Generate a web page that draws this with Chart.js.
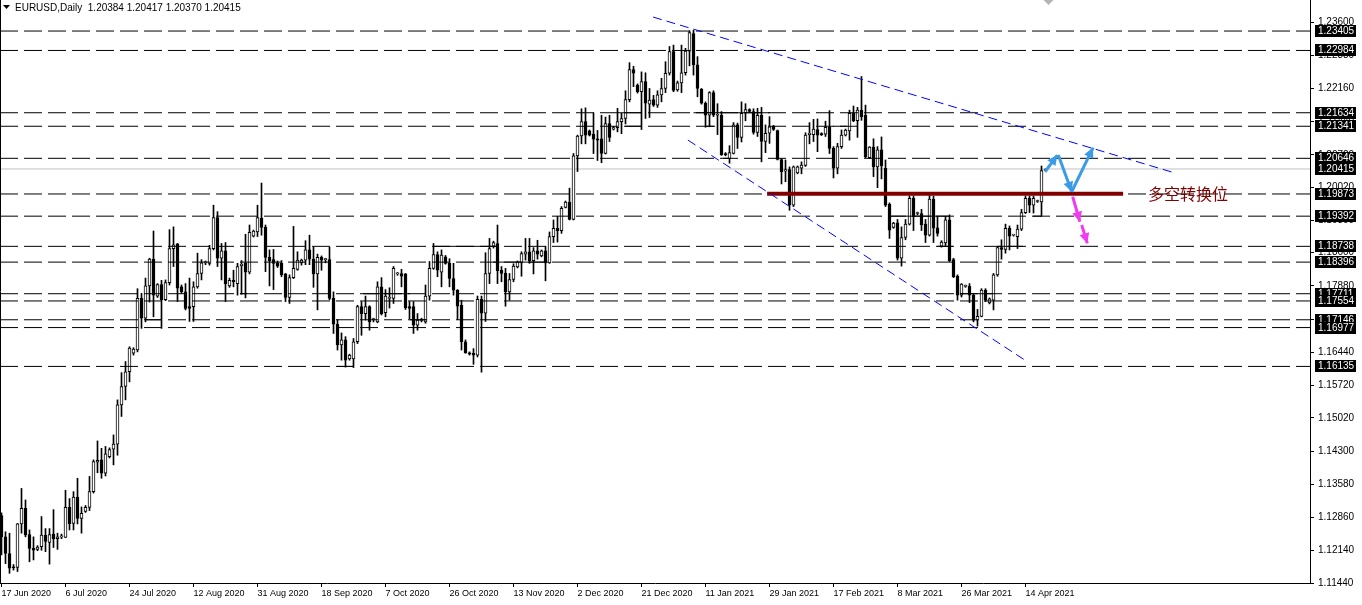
<!DOCTYPE html>
<html><head><meta charset="utf-8">
<script src="https://cdn.jsdelivr.net/npm/chart.js@4.4.1/dist/chart.umd.min.js"></script>
<style>html,body{margin:0;padding:0;background:#fff;overflow:hidden}canvas{display:block}</style>
</head><body>
<canvas id="c" width="1362" height="605"></canvas>
<script>
// ---------- data ----------
const symbolTitle = 'EURUSD,Daily';
const headerQuote = [1.20384, 1.20417, 1.20370, 1.20415];
const dateLabels = ['17 Jun 2020','6 Jul 2020','24 Jul 2020','12 Aug 2020','31 Aug 2020','18 Sep 2020','7 Oct 2020','26 Oct 2020','13 Nov 2020','2 Dec 2020','21 Dec 2020','11 Jan 2021','29 Jan 2021','17 Feb 2021','8 Mar 2021','26 Mar 2021','14 Apr 2021'];
const dateTickIndex = [0,16,32,48,64,80,96,112,128,144,160,176,192,208,224,240,256];
const priceTicks = [1.23600,1.22880,1.22160,1.21440,1.20720,1.20020,1.19300,1.18600,1.17880,1.17160,1.16440,1.15720,1.15020,1.14300,1.13580,1.12860,1.12140,1.11440];
const levelValues = [1.23405,1.22984,1.21634,1.21341,1.20646,1.19873,1.19392,1.18738,1.18396,1.17711,1.17554,1.17146,1.16977,1.16135];
const currentPrice = 1.20415;
// solid horizontal segments: [price, from bar, to bar]
const levelSegments = [
  [1.17146, 35.9, 40.1], [1.17711, 59.6, 61.4], [1.16135, 83.9, 87.9],
  [1.17711, 90.4, 102.1], [1.17146, 102.1, 106.4], [1.18738, 107.9, 123.9],
  [1.18396, 122.9, 136.6], [1.21634, 153.9, 160.1], [1.21341, 155.9, 160.1],
  [1.21634, 173.0, 192.1], [1.21341, 175.9, 178.4], [1.20646, 180.4, 182.1],
  [1.21341, 207.9, 211.4], [1.19392, 222.1, 237.1], [1.18738, 233.9, 237.9],
  [1.17711, 239.6, 247.9], [1.18738, 248.9, 255.4], [1.19392, 257.9, 260.1]
];

const opens = [
1.1290,1.1244,1.1208,1.1179,1.1178,1.1272,1.1306,1.1249,1.1219,1.1217,
1.1223,1.1248,1.1232,1.1250,1.1240,1.1244,1.1243,1.1308,1.1273,1.1330,
1.1284,1.1299,1.1308,1.1342,1.1406,1.1411,1.1382,1.1418,1.1434,1.1445,
1.1530,1.1570,1.1602,1.1642,1.1649,1.1761,1.1718,1.1788,1.1846,1.1766,
1.1791,1.1758,1.1795,1.1869,1.1879,1.1786,1.1775,1.1743,1.1743,1.1786,
1.1815,1.1838,1.1837,1.1869,1.1936,1.1848,1.1864,1.1788,1.1800,1.1793,
1.1832,1.1837,1.1818,1.1896,1.1905,1.1935,1.1915,1.1850,1.1845,1.1837,
1.1837,1.1814,1.1763,1.1806,1.1824,1.1838,1.1844,1.1866,1.1846,1.1814,
1.1850,1.1845,1.1845,1.1761,1.1705,1.1660,1.1671,1.1630,1.1630,1.1667,
1.1743,1.1728,1.1743,1.1715,1.1710,1.1786,1.1730,1.1761,1.1761,1.1814,
1.1815,1.1814,1.1743,1.1743,1.1703,1.1713,1.1710,1.1766,1.1826,1.1856,
1.1818,1.1851,1.1837,1.1804,1.1779,1.1746,1.1667,1.1643,1.1642,1.1638,
1.1759,1.1729,1.1815,1.1874,1.1880,1.1822,1.1816,1.1775,1.1802,1.1829,
1.1838,1.1857,1.1862,1.1843,1.1864,1.1853,1.1864,1.1838,1.1895,1.1913,
1.1908,1.1958,1.1970,1.1932,1.2070,1.2113,1.2144,1.2124,1.2117,1.2107,
1.2107,1.2075,1.2140,1.2128,1.2131,1.2144,1.2151,1.2192,1.2257,1.2223,
1.2209,1.2231,1.2182,1.2192,1.2180,1.2202,1.2216,1.2249,1.2296,1.2213,
1.2228,1.2250,1.2297,1.2335,1.2267,1.2214,1.2184,1.2158,1.2207,1.2158,
1.2158,1.2075,1.2064,1.2075,1.2137,1.2110,1.2163,1.2170,1.2166,1.2121,
1.2158,1.2101,1.2119,1.2134,1.2125,1.2062,1.2037,1.2040,1.1963,1.2033,
1.2043,1.2049,1.2116,1.2116,1.2127,1.2118,1.2117,1.2132,1.2086,1.2043,
1.2090,1.2115,1.2124,1.2162,1.2146,1.2169,1.2158,1.2066,1.2089,1.2046,
1.2083,1.2043,1.1965,1.1915,1.1925,1.1848,1.1893,1.1922,1.1978,1.1945,
1.1945,1.1922,1.1898,1.1976,1.1914,1.1874,1.1881,1.1931,1.1845,1.1809,
1.1768,1.1787,1.1787,1.1768,1.1714,1.1722,1.1779,1.1751,1.1757,1.1812,
1.1871,1.1867,1.1913,1.1898,1.1895,1.1911,1.1947,1.1978,1.1963,1.1971,
1.1970,1.20384];
const highs = [
1.1296,1.1255,1.1252,1.1184,1.1273,1.1349,1.1324,1.1259,1.1244,1.1225,
1.1288,1.1262,1.1262,1.1303,1.1252,1.1250,1.1345,1.1327,1.1342,1.1371,
1.1309,1.1312,1.1375,1.1411,1.1452,1.1436,1.1440,1.1437,1.1465,1.1541,
1.1600,1.1624,1.1656,1.1654,1.1782,1.1772,1.1805,1.1848,1.1907,1.1793,
1.1800,1.1801,1.1910,1.1916,1.1880,1.1790,1.1793,1.1805,1.1797,1.1859,
1.1845,1.1842,1.1876,1.1963,1.1949,1.1880,1.1882,1.1805,1.1822,1.1837,
1.1843,1.1900,1.1920,1.1909,1.1963,1.2011,1.1920,1.1866,1.1867,1.1842,
1.1843,1.1815,1.1812,1.1917,1.1862,1.1846,1.1886,1.1898,1.1872,1.1857,
1.1853,1.1848,1.1872,1.1775,1.1715,1.1686,1.1678,1.1640,1.1674,1.1746,
1.1754,1.1766,1.1745,1.1718,1.1797,1.1806,1.1780,1.1784,1.1830,1.1817,
1.1824,1.1815,1.1754,1.1754,1.1728,1.1718,1.1790,1.1841,1.1880,1.1862,
1.1866,1.1854,1.1847,1.1837,1.1780,1.1757,1.1671,1.1645,1.1652,1.1766,
1.1766,1.1860,1.1891,1.1885,1.1920,1.1830,1.1826,1.1815,1.1836,1.1842,
1.1862,1.1891,1.1891,1.1871,1.1887,1.1866,1.1874,1.1905,1.1931,1.1939,
1.1960,1.1972,1.2000,1.2075,1.2115,1.2172,1.2174,1.2126,1.2163,1.2125,
1.2158,1.2154,1.2158,1.2134,1.2173,1.2162,1.2211,1.2272,1.2264,1.2226,
1.2252,1.2250,1.2216,1.2201,1.2211,1.2238,1.2274,1.2307,1.2310,1.2232,
1.2310,1.2303,1.2341,1.2342,1.2285,1.2216,1.2187,1.2209,1.2211,1.2183,
1.2166,1.2077,1.2092,1.2142,1.2141,1.2187,1.2183,1.2172,1.2172,1.2173,
1.2175,1.2137,1.2155,1.2136,1.2126,1.2064,1.2061,1.2046,1.2048,1.2048,
1.2057,1.2120,1.2142,1.2149,1.2150,1.2120,1.2145,1.2168,1.2090,1.2097,
1.2126,1.2128,1.2169,1.2178,1.2175,1.2242,1.2180,1.2090,1.2107,1.2090,
1.2111,1.2061,1.1968,1.1926,1.1932,1.1916,1.1932,1.1983,1.1983,1.1948,
1.1954,1.1932,1.1985,1.1983,1.1939,1.1886,1.1939,1.1942,1.1848,1.1812,
1.1793,1.1790,1.1793,1.1772,1.1737,1.1782,1.1782,1.1762,1.1815,1.1873,
1.1888,1.1922,1.1918,1.1900,1.1920,1.1954,1.1983,1.1983,1.1983,1.1974,
1.2048,1.20417];
const lows = [
1.1205,1.1186,1.1165,1.1172,1.1169,1.1252,1.1244,1.1190,1.1194,1.1214,
1.1215,1.1212,1.1185,1.1221,1.1217,1.1240,1.1243,1.1259,1.1259,1.1272,
1.1252,1.1297,1.1301,1.1339,1.1383,1.1371,1.1376,1.1415,1.1400,1.1421,
1.1505,1.1541,1.1580,1.1638,1.1645,1.1696,1.1710,1.1753,1.1721,1.1763,
1.1696,1.1756,1.1790,1.1830,1.1754,1.1772,1.1736,1.1711,1.1711,1.1783,
1.1801,1.1834,1.1833,1.1866,1.1830,1.1801,1.1754,1.1785,1.1786,1.1768,
1.1770,1.1762,1.1814,1.1894,1.1895,1.1898,1.1819,1.1788,1.1780,1.1828,
1.1808,1.1754,1.1750,1.1804,1.1822,1.1833,1.1834,1.1834,1.1785,1.1736,
1.1822,1.1838,1.1758,1.1685,1.1649,1.1627,1.1612,1.1627,1.1611,1.1663,
1.1681,1.1714,1.1692,1.1710,1.1708,1.1725,1.1721,1.1740,1.1750,1.1811,
1.1786,1.1737,1.1717,1.1685,1.1692,1.1710,1.1707,1.1757,1.1824,1.1808,
1.1786,1.1835,1.1786,1.1768,1.1715,1.1649,1.1642,1.1638,1.1618,1.1634,
1.1601,1.1711,1.1793,1.1870,1.1793,1.1797,1.1744,1.1757,1.1797,1.1827,
1.1809,1.1844,1.1837,1.1814,1.1846,1.1851,1.1799,1.1837,1.1882,1.1883,
1.1902,1.1957,1.1931,1.1931,1.2036,1.2096,1.2096,1.2113,1.2075,1.2060,
1.2055,1.2074,1.2101,1.2126,1.2122,1.2118,1.2139,1.2187,1.2220,1.2206,
1.2127,1.2151,1.2153,1.2177,1.2175,1.2187,1.2207,1.2245,1.2209,1.2210,
1.2207,1.2245,1.2265,1.2245,1.2198,1.2182,1.2132,1.2133,1.2155,1.2116,
1.2071,1.2070,1.2054,1.2074,1.2086,1.2100,1.2146,1.2164,1.2117,1.2112,
1.2057,1.2077,1.2097,1.2125,1.2061,1.2009,1.2014,1.1952,1.1960,1.2031,
1.2031,1.2047,1.2096,1.2101,1.2079,1.2114,1.2112,1.2075,1.2022,1.2031,
1.2086,1.2113,1.2104,1.2144,1.2110,1.2147,1.2066,1.2064,1.2025,1.2001,
1.2020,1.1960,1.1891,1.1913,1.1844,1.1831,1.1888,1.1920,1.1908,1.1942,
1.1908,1.1882,1.1896,1.1882,1.1896,1.1872,1.1873,1.1841,1.1806,1.1757,
1.1764,1.1785,1.1752,1.1710,1.1701,1.1721,1.1754,1.1749,1.1736,1.1809,
1.1846,1.1859,1.1866,1.1896,1.1869,1.1908,1.1945,1.1947,1.1946,1.1969,
1.1939,1.20370];
const closes = [
1.1244,1.1208,1.1176,1.1177,1.1272,1.1306,1.1248,1.1219,1.1215,1.1222,
1.1248,1.1234,1.1249,1.1240,1.1244,1.1246,1.1308,1.1272,1.1330,1.1284,
1.1295,1.1308,1.1342,1.1407,1.1410,1.1382,1.1424,1.1433,1.1445,1.1530,
1.1570,1.1602,1.1653,1.1651,1.1761,1.1718,1.1788,1.1846,1.1768,1.1791,
1.1758,1.1795,1.1869,1.1877,1.1783,1.1775,1.1739,1.1739,1.1786,1.1815,
1.1838,1.1840,1.1869,1.1936,1.1848,1.1864,1.1793,1.1800,1.1797,1.1830,
1.1835,1.1818,1.1904,1.1907,1.1936,1.1915,1.1850,1.1843,1.1837,1.1831,
1.1812,1.1763,1.1806,1.1826,1.1844,1.1844,1.1866,1.1846,1.1814,1.1850,
1.1844,1.1845,1.1761,1.1705,1.1660,1.1671,1.1627,1.1638,1.1667,1.1743,
1.1728,1.1743,1.1710,1.1716,1.1786,1.1728,1.1766,1.1762,1.1826,1.1815,
1.1809,1.1741,1.1739,1.1703,1.1714,1.1716,1.1766,1.1826,1.1856,1.1822,
1.1855,1.1837,1.1804,1.1779,1.1744,1.1667,1.1643,1.1640,1.1638,1.1759,
1.1729,1.1815,1.1869,1.1882,1.1821,1.1815,1.1775,1.1802,1.1831,1.1840,
1.1858,1.1862,1.1843,1.1864,1.1857,1.1864,1.1838,1.1895,1.1913,1.1908,
1.1956,1.1970,1.1932,1.2070,1.2113,1.2144,1.2115,1.2115,1.2106,1.2104,
1.2075,1.2140,1.2110,1.2131,1.2144,1.2151,1.2192,1.2257,1.2249,1.2209,
1.2231,1.2184,1.2191,1.2180,1.2202,1.2216,1.2249,1.2296,1.2212,1.2228,
1.2250,1.2297,1.2337,1.2267,1.2216,1.2184,1.2158,1.2207,1.2158,1.2160,
1.2072,1.2072,1.2077,1.2137,1.2110,1.2162,1.2170,1.2166,1.2121,1.2158,
1.2101,1.2119,1.2133,1.2127,1.2062,1.2035,1.2040,1.1963,1.2046,1.2046,
1.2050,1.2115,1.2119,1.2128,1.2115,1.2116,1.2132,1.2086,1.2043,1.2090,
1.2115,1.2126,1.2162,1.2146,1.2169,1.2155,1.2068,1.2089,1.2046,1.2083,
1.2048,1.1963,1.1909,1.1924,1.1848,1.1893,1.1922,1.1978,1.1938,1.1945,
1.1920,1.1898,1.1976,1.1913,1.1902,1.1883,1.1931,1.1843,1.1808,1.1768,
1.1792,1.1787,1.1768,1.1714,1.1722,1.1779,1.1757,1.1760,1.1812,1.1871,
1.1867,1.1913,1.1896,1.1898,1.1911,1.1947,1.1978,1.1963,1.1978,1.1971,
1.2038,1.20415];

// annotations: [bar index, price]
const upperTrend = [[162.9, 1.23708], [293.4, 1.20327]];
const lowerTrend = [[171.6, 1.21042], [256.6, 1.16229]];
const pivotLine = [[191.4, 1.19878], [280.4, 1.19878]];
const pivotLabel = '多空转换位';
const pivotLabelAt = [286.6, 1.19878];
const blueArrows = [
  [[260.9, 1.20355], [263.95, 1.20717]],
  [[264.2, 1.20717], [267.55, 1.19921]],
  [[267.55, 1.19921], [272.9, 1.20879]]
];
const pinkArrows = [
  [[267.8, 1.19813], [269.6, 1.19271]],
  [[270.05, 1.19200], [271.45, 1.18803]]
];

// ---------- chart ----------
const X_MIN = -0.375, X_MAX = 327.125;
const Y_MIN = 1.11440, Y_MAX = 1.24078;
const FONT = "'Liberation Sans', Arial, sans-serif";

const pts = arr => arr.map(p => ({x: p[0], y: p[1]}));
const bodies = opens.map((o, i) => ({x: i, y: [o, closes[i]]}));
const wicks = lows.map((l, i) => ({x: i, y: [l, highs[i]]}));

const datasets = [
  {type:'bar', data: bodies, order: 3, grouped:false, barThickness:3, minBarLength:1,
   borderWidth:1, borderColor:'#000', borderSkipped:false,
   backgroundColor: c => (closes[c.dataIndex] >= opens[c.dataIndex] ? '#ffffff' : '#000000')},
  {type:'bar', data: wicks, order: 4, grouped:false, barThickness:1, backgroundColor:'#000', borderWidth:0},
  {type:'line', data: [{x:X_MIN, y:currentPrice}, {x:X_MAX, y:currentPrice}], order: 5,
   borderColor:'#c0c0c0', borderWidth:1, pointRadius:0},
  ...levelValues.map(v => ({type:'line', data:[{x:X_MIN, y:v}, {x:X_MAX, y:v}], order: 2,
   borderColor:'#000', borderWidth:1, borderDash:[18,6], pointRadius:0})),
  ...levelSegments.map(s => ({type:'line', data:[{x:s[1], y:s[0]}, {x:s[2], y:s[0]}], order: 2,
   borderColor:'#000', borderWidth:1, pointRadius:0})),
  {type:'line', data: pts(upperTrend), order: 1, borderColor:'#0000ff', borderWidth:1, borderDash:[9,5], pointRadius:0},
  {type:'line', data: pts(lowerTrend), order: 1, borderColor:'#0000ff', borderWidth:1, borderDash:[9,5], pointRadius:0},
  {type:'line', data: pts(pivotLine), order: 1, borderColor:'#800000', borderWidth:4, pointRadius:0},
  ...blueArrows.map(a => ({type:'line', data: pts(a), order: 0, borderColor:'#3a9be6', borderWidth:3, pointRadius:0, arrowHead:true})),
  ...pinkArrows.map(a => ({type:'line', data: pts(a), order: 0, borderColor:'#f03cf0', borderWidth:3, pointRadius:0, arrowHead:true}))
];

function drawHead(ctx, x1, y1, x2, y2, color) {
  const a = Math.atan2(y2 - y1, x2 - x1), len = 10, w = 5;
  const bx = x2 - len * Math.cos(a), by = y2 - len * Math.sin(a);
  ctx.save();
  ctx.fillStyle = color;
  ctx.beginPath();
  ctx.moveTo(x2, y2);
  ctx.lineTo(bx + w * Math.sin(a), by - w * Math.cos(a));
  ctx.lineTo(bx - w * Math.sin(a), by + w * Math.cos(a));
  ctx.closePath();
  ctx.fill();
  ctx.restore();
}

const overlay = {
  id: 'overlay',
  afterDatasetsDraw(chart) {
    const ctx = chart.ctx;
    chart.data.datasets.forEach((ds, i) => {
      if (!ds.arrowHead) return;
      const el = chart.getDatasetMeta(i).data;
      if (el.length < 2) return;
      const p1 = el[el.length - 2], p2 = el[el.length - 1];
      drawHead(ctx, p1.x, p1.y, p2.x, p2.y, ds.borderColor);
    });
    // pivot label
    const {x, y} = chart.scales;
    ctx.save();
    ctx.font = "16px 'Noto Sans CJK SC', sans-serif";
    ctx.fillStyle = '#800000';
    ctx.textBaseline = 'middle';
    ctx.textAlign = 'left';
    ctx.fillText(pivotLabel, x.getPixelForValue(pivotLabelAt[0]), y.getPixelForValue(pivotLabelAt[1]));
    ctx.restore();
  },
  afterDraw(chart) {
    const ctx = chart.ctx, area = chart.chartArea, ys = chart.scales.y, xs = chart.scales.x;
    ctx.save();
    // left frame line
    ctx.strokeStyle = '#000'; ctx.lineWidth = 1;
    ctx.beginPath(); ctx.moveTo(0.5, area.top); ctx.lineTo(0.5, area.bottom); ctx.stroke();
    // chart shift marker
    const sx = xs.getPixelForValue(261.75);
    ctx.fillStyle = '#b4b4b4';
    ctx.beginPath(); ctx.moveTo(sx - 5, 0); ctx.lineTo(sx + 5, 0); ctx.lineTo(sx, 5); ctx.closePath(); ctx.fill();
    // price labels for levels
    ctx.font = '10px ' + FONT;
    ctx.textBaseline = 'middle';
    ctx.textAlign = 'left';
    [...levelValues, currentPrice].forEach(v => {
      const py = Math.round(ys.getPixelForValue(v));
      ctx.fillStyle = '#000';
      ctx.fillRect(area.right + 5, py - 6, 41, 12);
      ctx.fillStyle = '#fff';
      ctx.fillText(v.toFixed(5), area.right + 8, py + 0.5);
    });
    // header
    ctx.fillStyle = '#000';
    ctx.beginPath(); ctx.moveTo(3, 5); ctx.lineTo(10, 5); ctx.lineTo(6.5, 9); ctx.closePath(); ctx.fill();
    ctx.fillText(symbolTitle + '  ' + headerQuote.map(v => v.toFixed(5)).join(' '), 15, 8);
    ctx.restore();
  }
};

Chart.defaults.font.family = FONT;
Chart.defaults.color = '#000';

new Chart(document.getElementById('c'), {
  type: 'bar',
  data: { datasets },
  plugins: [overlay],
  options: {
    responsive: false,
    animation: false,
    devicePixelRatio: 1,
    events: [],
    layout: { padding: 0, autoPadding: false },
    plugins: { legend: {display:false}, tooltip: {enabled:false}, title: {display:false} },
    scales: {
      x: {
        type: 'linear', min: X_MIN, max: X_MAX, offset: false,
        grid: { display: true, drawOnChartArea: false, drawTicks: true, tickLength: 4, color: '#000', offset: false },
        border: { display: true, color: '#000', width: 1 },
        ticks: { autoSkip: false, maxRotation: 0, align: 'start', padding: 1, font: { size: 9 }, color: '#000',
                 callback: (v, i) => dateLabels[i] },
        afterBuildTicks: s => { s.ticks = dateTickIndex.map(v => ({value: v})); },
        afterFit: s => { s.height = 22; s.paddingLeft = 0; s.paddingRight = 0; }
      },
      y: {
        type: 'linear', position: 'right', min: Y_MIN, max: Y_MAX, beginAtZero: false,
        grid: { display: true, drawOnChartArea: false, drawTicks: true, tickLength: 4, color: '#000' },
        border: { display: true, color: '#000', width: 1 },
        ticks: { padding: 4, font: { size: 10 }, color: '#000', callback: v => Number(v).toFixed(5) },
        afterBuildTicks: s => { s.ticks = priceTicks.map(v => ({value: v})); },
        afterFit: s => { s.width = 52; s.paddingTop = 0; s.paddingBottom = 0; }
      }
    }
  }
});
</script>
</body></html>
